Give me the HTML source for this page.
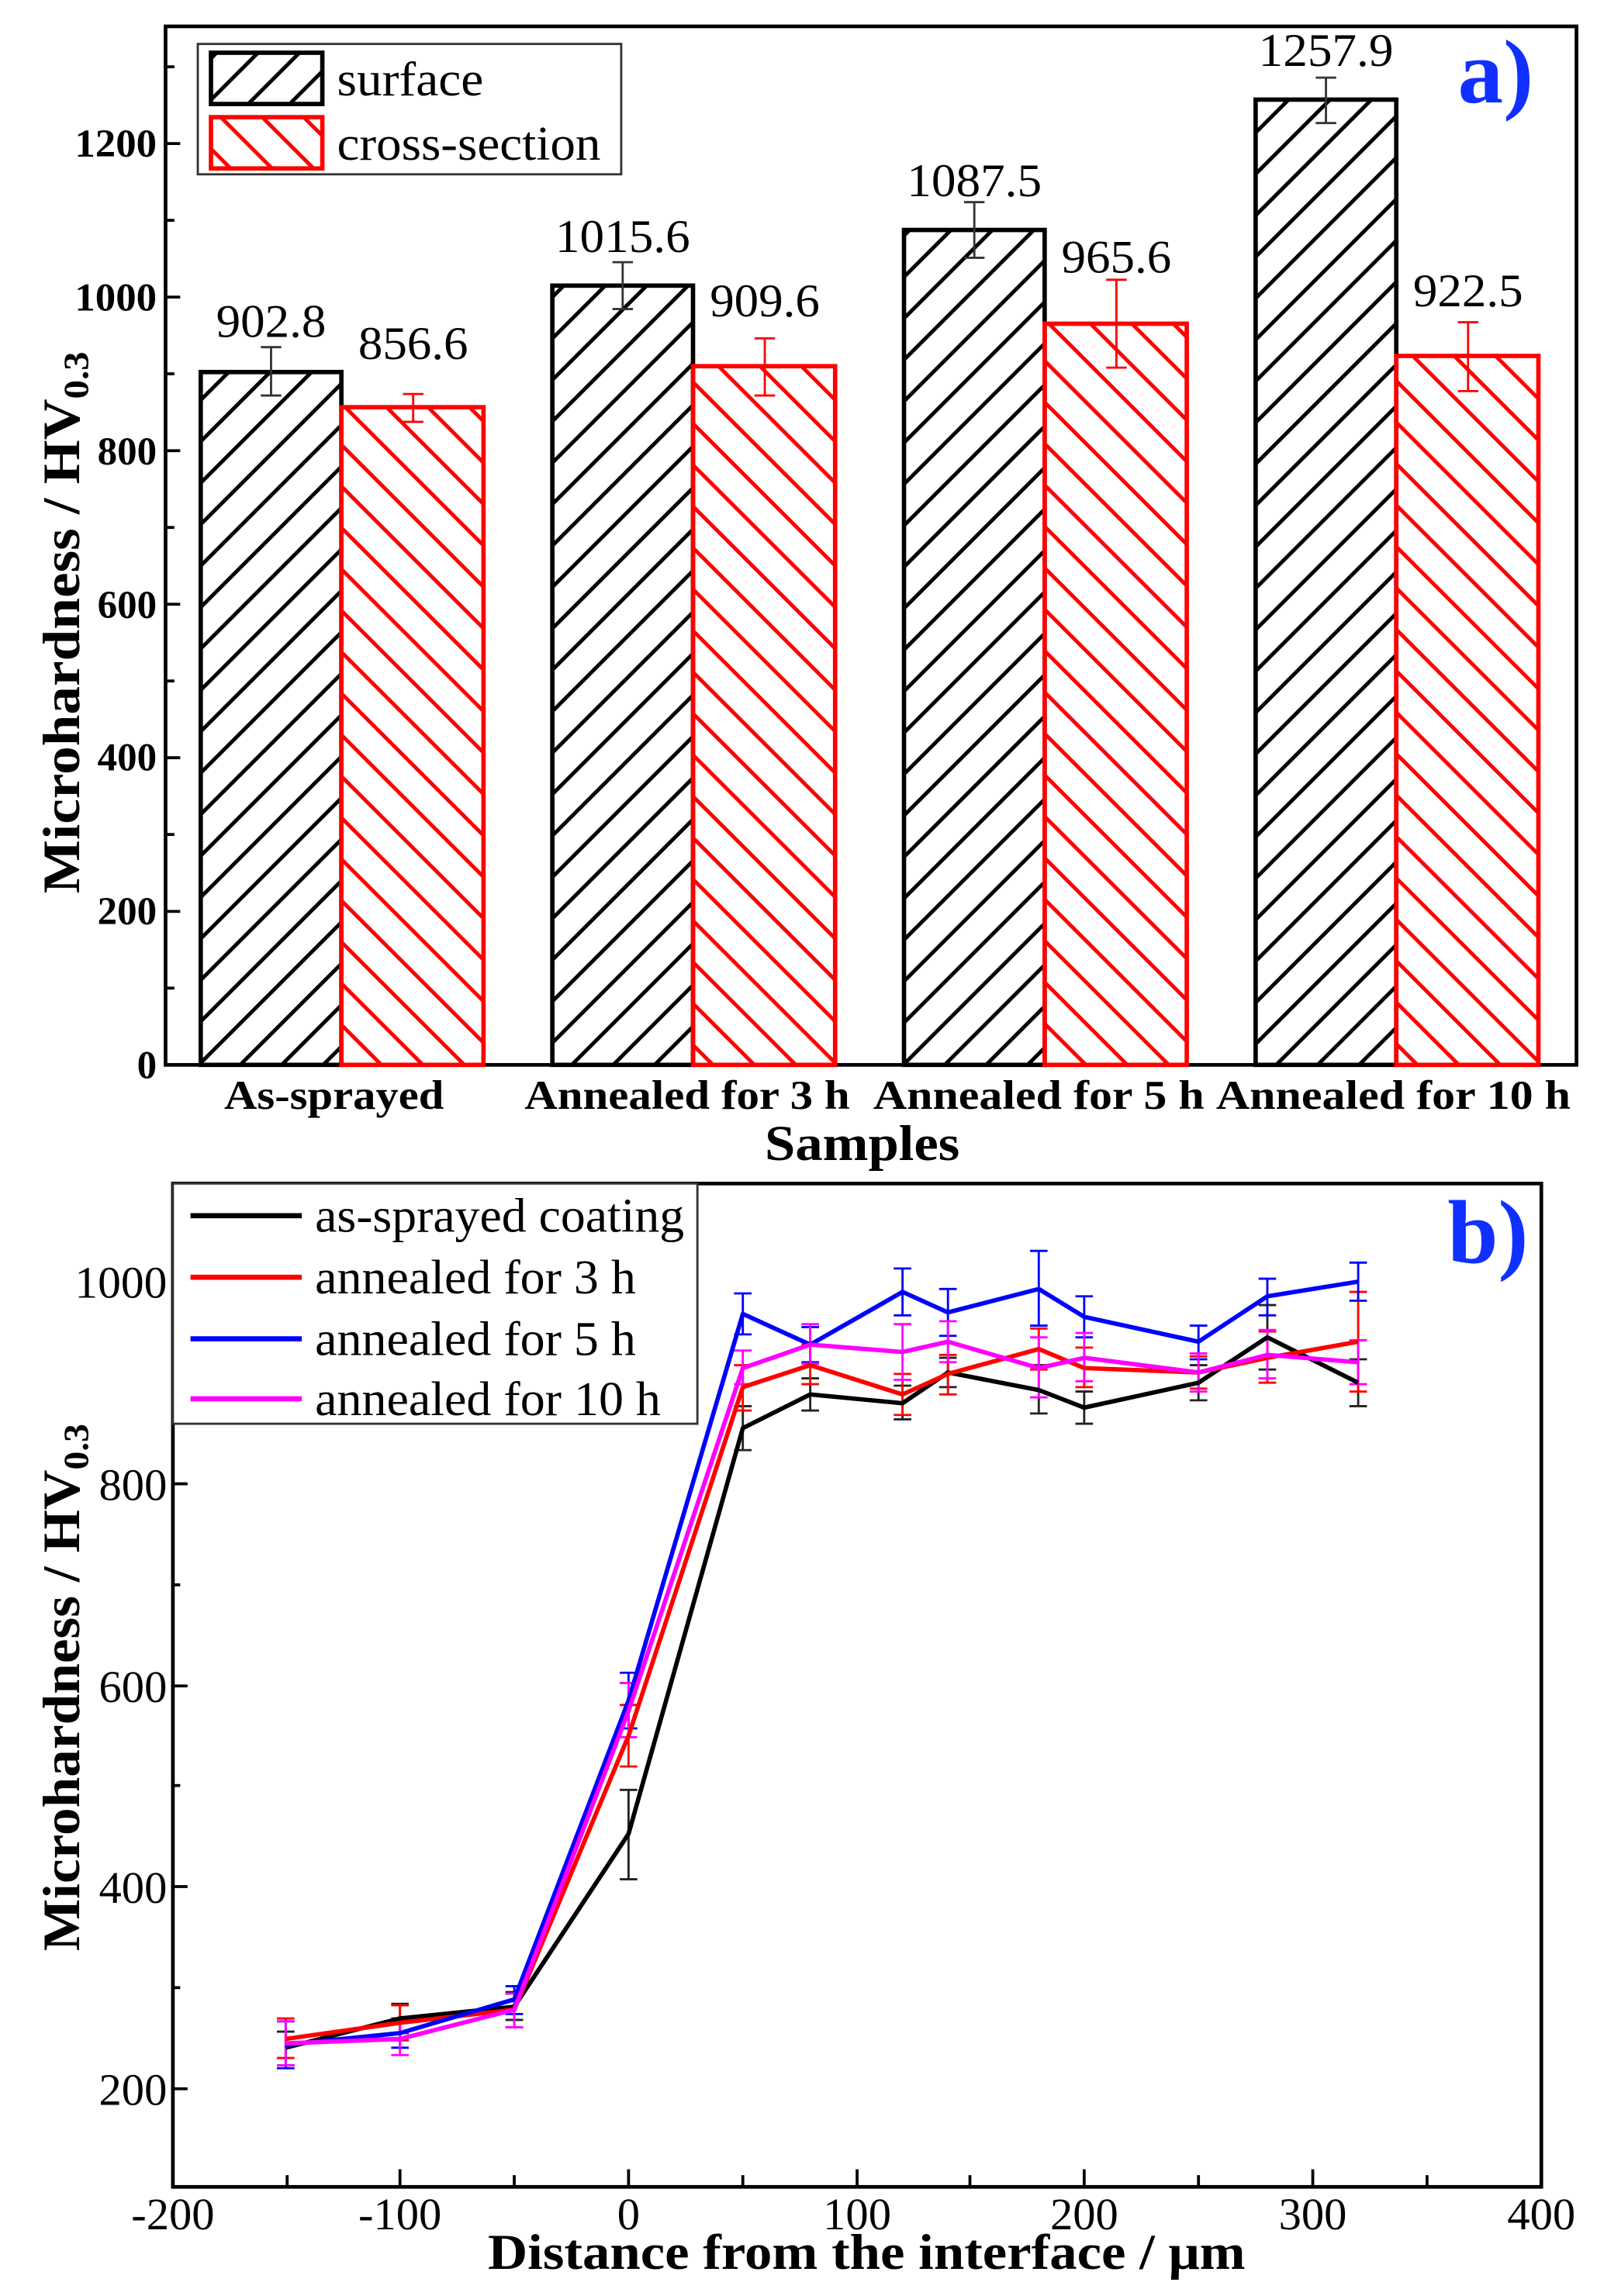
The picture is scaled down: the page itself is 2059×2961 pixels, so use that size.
<!DOCTYPE html>
<html><head><meta charset="utf-8"><style>html,body{margin:0;padding:0;background:#fff}svg{display:block}</style></head>
<body>
<svg xmlns="http://www.w3.org/2000/svg" width="2059" height="2961" viewBox="0 0 1090 1567.5" font-family="'Liberation Serif', serif">
<defs>
<pattern id="hb" patternUnits="userSpaceOnUse" width="20" height="20" patternTransform="rotate(45)">
<line x1="10" y1="0" x2="10" y2="20" stroke="#000" stroke-width="2.6"/></pattern>
<pattern id="hr" patternUnits="userSpaceOnUse" width="20" height="20" patternTransform="rotate(-45)">
<line x1="10" y1="0" x2="10" y2="20" stroke="#f00" stroke-width="2.6"/></pattern>
</defs>
<rect width="1090" height="1567.5" fill="#fff"/>

<!-- Chart a -->
<g>
<rect x="113" y="18" width="963" height="709" fill="none" stroke="#000" stroke-width="2.5"/>
<g stroke="#000" stroke-width="2">
<line x1="113" y1="727" x2="123" y2="727"/><line x1="113" y1="674.6" x2="119" y2="674.6"/>
<line x1="113" y1="622.2" x2="123" y2="622.2"/><line x1="113" y1="569.7" x2="119" y2="569.7"/>
<line x1="113" y1="517.3" x2="123" y2="517.3"/><line x1="113" y1="464.9" x2="119" y2="464.9"/>
<line x1="113" y1="412.5" x2="123" y2="412.5"/><line x1="113" y1="360.1" x2="119" y2="360.1"/>
<line x1="113" y1="307.7" x2="123" y2="307.7"/><line x1="113" y1="255.2" x2="119" y2="255.2"/>
<line x1="113" y1="202.8" x2="123" y2="202.8"/><line x1="113" y1="150.4" x2="119" y2="150.4"/>
<line x1="113" y1="98" x2="123" y2="98"/><line x1="113" y1="45.6" x2="119" y2="45.6"/>
</g>
<g font-size="27" font-weight="bold" text-anchor="end">
<text x="107" y="736">0</text><text x="107" y="631">200</text><text x="107" y="526">400</text>
<text x="107" y="422">600</text><text x="107" y="317">800</text><text x="107" y="212" textLength="56" lengthAdjust="spacingAndGlyphs">1000</text><text x="107" y="107" textLength="56" lengthAdjust="spacingAndGlyphs">1200</text>
</g>
<text transform="translate(54,425) rotate(-90)" font-size="36" font-weight="bold" text-anchor="middle" textLength="370" lengthAdjust="spacingAndGlyphs">Microhardness / HV<tspan font-size="24" dy="6">0.3</tspan></text>
<g stroke-width="3">
<rect x="137" y="254" width="96" height="473" fill="url(#hb)" stroke="#000"/>
<rect x="233" y="278" width="97" height="449" fill="url(#hr)" stroke="#f00"/>
<rect x="377" y="195" width="96" height="532" fill="url(#hb)" stroke="#000"/>
<rect x="473" y="250" width="97" height="477" fill="url(#hr)" stroke="#f00"/>
<rect x="617" y="157" width="96" height="570" fill="url(#hb)" stroke="#000"/>
<rect x="713" y="221" width="97" height="506" fill="url(#hr)" stroke="#f00"/>
<rect x="857" y="68" width="96" height="659" fill="url(#hb)" stroke="#000"/>
<rect x="953" y="243" width="97" height="484" fill="url(#hr)" stroke="#f00"/>
</g>
<g stroke="#333" stroke-width="1.5" fill="none">
<path d="M185 237V270M178 237H192M178 270H192"/>
<path d="M425 179V211M418 179H432M418 211H432"/>
<path d="M665 138V176M658 138H672M658 176H672"/>
<path d="M905 53V84M898 53H912M898 84H912"/>
</g>
<g stroke="#f00" stroke-width="1.5" fill="none">
<path d="M282 269V288M275 269H289M275 288H289"/>
<path d="M522 231V270M515 231H529M515 270H529"/>
<path d="M762 191V251M755 191H769M755 251H769"/>
<path d="M1002 220V267M995 220H1009M995 267H1009"/>
</g>
<g font-size="32" text-anchor="middle" lengthAdjust="spacingAndGlyphs">
<text x="185" y="230" textLength="75" lengthAdjust="spacingAndGlyphs">902.8</text><text x="282" y="245" textLength="75" lengthAdjust="spacingAndGlyphs">856.6</text>
<text x="425" y="172" textLength="92" lengthAdjust="spacingAndGlyphs">1015.6</text><text x="522" y="216" textLength="75" lengthAdjust="spacingAndGlyphs">909.6</text>
<text x="665" y="134" textLength="92" lengthAdjust="spacingAndGlyphs">1087.5</text><text x="762" y="186" textLength="75" lengthAdjust="spacingAndGlyphs">965.6</text>
<text x="905" y="45" textLength="92" lengthAdjust="spacingAndGlyphs">1257.9</text><text x="1002" y="209" textLength="75" lengthAdjust="spacingAndGlyphs">922.5</text>
</g>
<rect x="135" y="30" width="289" height="89" fill="#fff" stroke="#333" stroke-width="1.5"/>
<rect x="144" y="36" width="76" height="35" fill="url(#hb)" stroke="#000" stroke-width="3"/>
<rect x="144" y="80" width="76" height="35" fill="url(#hr)" stroke="#f00" stroke-width="3"/>
<text x="230" y="65" font-size="33" textLength="100" lengthAdjust="spacingAndGlyphs">surface</text>
<text x="230" y="109" font-size="33" textLength="180" lengthAdjust="spacingAndGlyphs">cross-section</text>
<text x="995" y="70" font-size="62" font-weight="bold" fill="#1030ff">a)</text>
<g font-size="28" font-weight="bold">
<text x="153" y="757" textLength="150" lengthAdjust="spacingAndGlyphs">As-sprayed</text>
<text x="358" y="757" textLength="222" lengthAdjust="spacingAndGlyphs">Annealed for 3 h</text>
<text x="596" y="757" textLength="226" lengthAdjust="spacingAndGlyphs">Annealed for  5 h</text>
<text x="830" y="757" textLength="242" lengthAdjust="spacingAndGlyphs">Annealed for  10 h</text>
</g>
<text x="522" y="792" font-size="34" font-weight="bold" textLength="133" lengthAdjust="spacingAndGlyphs">Samples</text>
</g>

<!-- Chart b -->
<g>
<rect x="118" y="808" width="934" height="685" fill="none" stroke="#000" stroke-width="2.5"/>
<g stroke="#000" stroke-width="2">
<line x1="118" y1="1426" x2="128" y2="1426"/><line x1="118" y1="1357" x2="123" y2="1357"/>
<line x1="118" y1="1288" x2="128" y2="1288"/><line x1="118" y1="1219" x2="123" y2="1219"/>
<line x1="118" y1="1151" x2="128" y2="1151"/><line x1="118" y1="1082" x2="123" y2="1082"/>
<line x1="118" y1="1013" x2="128" y2="1013"/><line x1="118" y1="944" x2="123" y2="944"/>
<line x1="118" y1="875" x2="128" y2="875"/>
<line x1="196" y1="1493" x2="196" y2="1485"/><line x1="273" y1="1493" x2="273" y2="1481"/>
<line x1="351" y1="1493" x2="351" y2="1485"/><line x1="429" y1="1493" x2="429" y2="1481"/>
<line x1="507" y1="1493" x2="507" y2="1485"/><line x1="585" y1="1493" x2="585" y2="1481"/>
<line x1="662" y1="1493" x2="662" y2="1485"/><line x1="740" y1="1493" x2="740" y2="1481"/>
<line x1="818" y1="1493" x2="818" y2="1485"/><line x1="896" y1="1493" x2="896" y2="1481"/>
<line x1="974" y1="1493" x2="974" y2="1485"/>
</g>
<g font-size="31" text-anchor="end">
<text x="114" y="1437">200</text><text x="114" y="1299">400</text><text x="114" y="1162">600</text>
<text x="114" y="1024">800</text><text x="114" y="886" textLength="63" lengthAdjust="spacingAndGlyphs">1000</text>
</g>
<g font-size="31" text-anchor="middle">
<text x="118" y="1522">-200</text><text x="273" y="1522">-100</text><text x="429" y="1522">0</text>
<text x="585" y="1522">100</text><text x="740" y="1522">200</text><text x="896" y="1522">300</text><text x="1052" y="1522">400</text>
</g>
<text transform="translate(54,1152) rotate(-90)" font-size="36" font-weight="bold" text-anchor="middle" textLength="360" lengthAdjust="spacingAndGlyphs">Microhardness / HV<tspan font-size="24" dy="6">0.3</tspan></text>
<text x="333" y="1549" font-size="34" font-weight="bold" textLength="517" lengthAdjust="spacingAndGlyphs">Distance from  the interface / μm</text>

<g fill="none" stroke-width="1.5">
<path stroke="#222" d="M195 1410V1387M189 1410H201M189 1387H201 M273 1388V1368M267 1388H279M267 1368H279 M351 1379V1360M345 1379H357M345 1360H357 M429 1283V1222M423 1283H435M423 1222H435 M507 990V960M501 990H513M501 960H513 M553 963V941M547 963H559M547 941H559 M616 969V946M610 969H622M610 946H622 M647 947V927M641 947H653M641 927H653 M709 965V932M703 965H715M703 932H715 M740 972V950M734 972H746M734 950H746 M818 956V932M812 956H824M812 932H824 M865 935V891M859 935H871M859 891H871 M927 960V928M921 960H933M921 928H933"/>
<path stroke="#f00" d="M195 1405V1378M189 1405H201M189 1378H201 M273 1393V1369M267 1393H279M267 1369H279 M351 1384V1361M345 1384H357M345 1361H357 M429 1206V1164M423 1206H435M423 1164H435 M507 963V932M501 963H513M501 932H513 M553 945V918M547 945H559M547 918H559 M616 966V938M610 966H622M610 938H622 M647 952V925M641 952H653M641 925H653 M709 935V907M703 935H715M703 907H715 M740 947V920M734 947H746M734 920H746 M818 948V926M812 948H824M812 926H824 M865 944V909M859 944H871M859 909H871 M927 950V882M921 950H933M921 882H933"/>
<path stroke="#00f" d="M195 1412V1380M189 1412H201M189 1380H201 M273 1398V1378M267 1398H279M267 1378H279 M351 1375V1356M345 1375H357M345 1356H357 M429 1180V1142M423 1180H435M423 1142H435 M507 911V883M501 911H513M501 883H513 M553 930V906M547 930H559M547 906H559 M616 898V866M610 898H622M610 866H622 M647 912V880M641 912H653M641 880H653 M709 905V854M703 905H715M703 854H715 M740 913V885M734 913H746M734 885H746 M818 928V905M812 928H824M812 905H824 M865 898V873M859 898H871M859 873H871 M927 888V862M921 888H933M921 862H933"/>
<path stroke="#f0f" d="M195 1410V1380M189 1410H201M189 1380H201 M273 1403V1381M267 1403H279M267 1381H279 M351 1384V1361M345 1384H357M345 1361H357 M429 1186V1149M423 1186H435M423 1149H435 M507 945V922M501 945H513M501 922H513 M553 931V904M547 931H559M547 904H559 M616 942V904M610 942H622M610 904H622 M647 930V902M641 930H653M641 902H653 M709 954V913M703 954H715M703 913H715 M740 943V910M734 943H746M734 910H746 M818 950V924M812 950H824M812 924H824 M865 941V908M859 941H871M859 908H871 M927 945V915M921 945H933M921 915H933"/>
</g>
<g fill="none" stroke-width="3" stroke-linejoin="round">
<polyline stroke="#000" points="195,1398 273,1378 351,1370 429,1252 507,975 553,952 616,958 647,937 709,949 740,961 818,944 865,913 927,944"/>
<polyline stroke="#f00" points="195,1392 273,1381 351,1372 429,1185 507,947 553,932 616,952 647,938 709,921 740,934 818,937 865,927 927,916"/>
<polyline stroke="#00f" points="195,1396 273,1388 351,1365 429,1161 507,897 553,918 616,882 647,896 709,880 740,899 818,916 865,885 927,875"/>
<polyline stroke="#f0f" points="195,1395 273,1392 351,1372 429,1168 507,934 553,918 616,923 647,916 709,934 740,927 818,937 865,925 927,930"/>
</g>
<rect x="118" y="808" width="358" height="164" fill="#fff" stroke="#333" stroke-width="1.5"/>
<g stroke-width="3.5">
<line x1="130" y1="830" x2="206" y2="830" stroke="#000"/>
<line x1="130" y1="872" x2="206" y2="872" stroke="#f00"/>
<line x1="130" y1="914" x2="206" y2="914" stroke="#00f"/>
<line x1="130" y1="955" x2="206" y2="955" stroke="#f0f"/>
</g>
<g font-size="33">
<text x="215" y="841" textLength="252" lengthAdjust="spacingAndGlyphs">as-sprayed coating</text>
<text x="215" y="883" textLength="219" lengthAdjust="spacingAndGlyphs">annealed for 3 h</text>
<text x="215" y="925" textLength="219" lengthAdjust="spacingAndGlyphs">annealed for 5 h</text>
<text x="215" y="966" textLength="236" lengthAdjust="spacingAndGlyphs">annealed for 10 h</text>
</g>
<text x="988" y="862" font-size="62" font-weight="bold" fill="#1030ff">b)</text>
</g>
</svg>
</body></html>
